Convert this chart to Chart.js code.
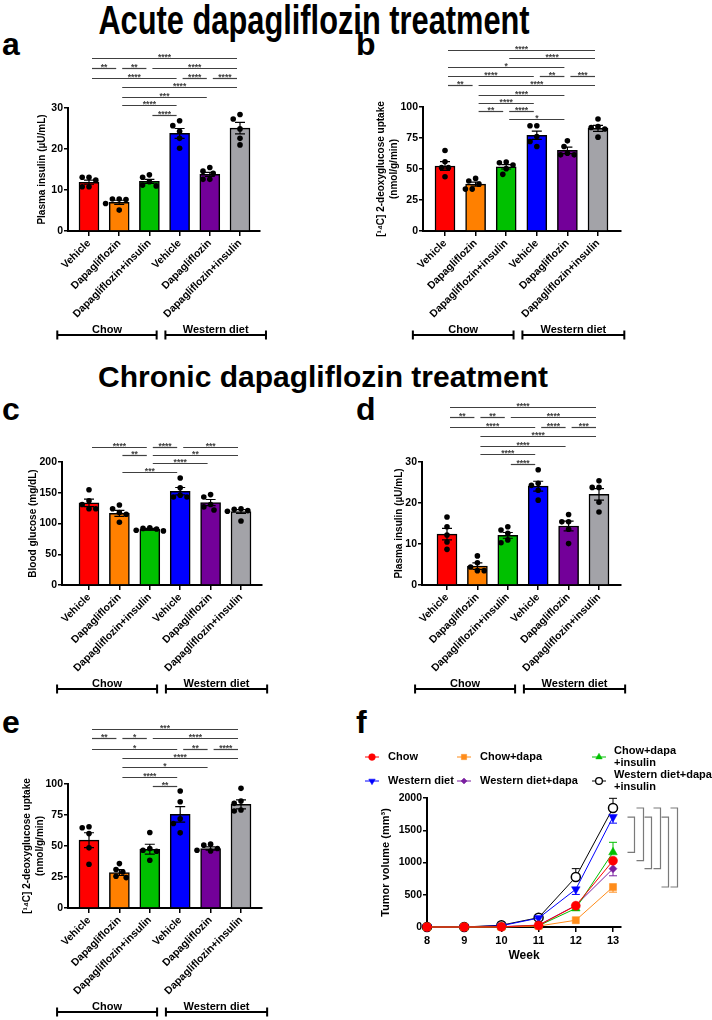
<!DOCTYPE html>
<html>
<head>
<meta charset="utf-8">
<script src="https://cdn.jsdelivr.net/npm/chart.js@4.4.1/dist/chart.umd.min.js"></script>
<style>
  body { margin: 0; background: #fff; }
  #page { position: relative; width: 712px; height: 1020px; overflow: hidden; background: #fff;
          font-family: 'Liberation Sans', Arial, sans-serif; }
  #page canvas { position: absolute; }
  .txt { position: absolute; font-weight: bold; color: #000; white-space: nowrap; line-height: 1; }
</style>
</head>
<body>
<div id="page">
  <div class="txt" style="left:314px; top:0px; font-size:40px; transform: translateX(-50%) scaleX(0.77);">Acute dapagliflozin treatment</div>
  <div class="txt" style="left:323px; top:362px; font-size:30px; transform: translateX(-50%);">Chronic dapagliflozin treatment</div>
  <div class="txt" style="left:2px; top:28px; font-size:32px;">a</div>
  <div class="txt" style="left:356px; top:28px; font-size:32px;">b</div>
  <div class="txt" style="left:2px; top:393px; font-size:32px;">c</div>
  <div class="txt" style="left:356px; top:393px; font-size:32px;">d</div>
  <div class="txt" style="left:2px; top:706px; font-size:32px;">e</div>
  <div class="txt" style="left:356px; top:706px; font-size:32px;">f</div>
</div>
<script>
/* ---- data ---- */
const groups = ['Vehicle', 'Dapagliflozin', 'Dapagliflozin+insulin', 'Vehicle', 'Dapagliflozin', 'Dapagliflozin+insulin'];
const diets = ['Chow', 'Western diet'];

// a: acute, plasma insulin
const aMean = [11.9, 7.0, 12.1, 23.8, 13.8, 25.1];
const aSem = [0.5, 0.5, 0.5, 1.2, 0.5, 1.4];
const aDots = [
    [13.1, 12.4, 13.1, 10.8, 10.8],
    [7.8, 7.8, 7.7, 6.7, 5.1],
    [13.7, 13.1, 12.0, 11.2, 11.0],
    [26.9, 25.7, 24.3, 22.6, 20.2],
    [15.5, 14.6, 14.1, 12.6, 12.6],
    [28.4, 27.3, 24.9, 22.6, 21.0]
];
const aSig = [
    [42.2, 0, 5, '****'],
    [39.8, 0, 1, '**'], [39.8, 1, 2, '**'], [39.8, 2, 5, '****'],
    [37.3, 0, 3, '****'], [37.3, 3, 4, '****'], [37.3, 4, 5, '****'],
    [35.1, 1, 5, '****'],
    [32.7, 1, 4, '***'],
    [30.7, 1, 3, '****'],
    [28.3, 2, 3, '****']
];

// b: acute, 2-deoxyglucose uptake
const bMean = [52.4, 37.8, 51.8, 77.2, 65.0, 82.8];
const bSem = [3.6, 1.6, 1.8, 3.3, 2.6, 2.4];
const bDots = [
    [64.9, 55.9, 51.1, 51.1, 43.8],
    [42.4, 40.3, 37.8, 33.8, 33.8],
    [55.7, 55.1, 53.2, 50.3, 45.7],
    [84.9, 84.9, 76.2, 72.2, 68.1],
    [72.7, 68.1, 62.7, 61.4, 61.4],
    [90.3, 84.3, 83.5, 82.2, 75.7]
];
const bSig = [
    [146, 0, 5, '****'],
    [139.5, 2, 5, '****'],
    [132, 0, 4, '*'],
    [125, 0, 3, '****'], [125, 3, 4, '**'], [125, 4, 5, '***'],
    [117.6, 0, 1, '**'], [117.6, 1, 5, '****'],
    [110, 1, 4, '****'],
    [103, 1, 3, '****'],
    [96.5, 1, 2, '**'], [96.5, 2, 3, '****'],
    [90, 2, 4, '*']
];

// c: chronic, blood glucose
const cMean = [133.5, 116.5, 90.5, 152.5, 134, 119.5];
const cSem = [6, 5, 1.5, 6, 5, 3];
const cDots = [
    [155, 137, 131, 124, 124],
    [130, 124, 118, 115, 102],
    [93, 92, 91, 89, 88],
    [174, 158, 146, 143, 143],
    [147, 143, 131, 127, 122],
    [124, 123, 121, 120, 104]
];
const cSig = [
    [225, 0, 2, '****'], [225, 2, 3, '****'], [225, 3, 5, '***'],
    [212, 1, 2, '**'], [212, 2, 5, '**'],
    [199, 2, 4, '****'],
    [183, 1, 3, '***']
];

// d: chronic, plasma insulin
const dMean = [12.4, 4.6, 12.1, 24.1, 14.4, 22.1];
const dSem = [1.4, 0.8, 0.7, 1.2, 1.2, 1.4];
const dDots = [
    [16.6, 14.2, 12.2, 10.5, 8.7],
    [7.1, 5.4, 4.4, 3.5, 3.5],
    [14.2, 13.4, 12.6, 11.0, 10.3],
    [28.1, 24.8, 24.3, 23.1, 20.7],
    [17.2, 15.4, 15.4, 13.6, 10.1],
    [25.4, 23.8, 23.8, 20.2, 17.8]
];
const dSig = [
    [43.4, 0, 5, '****'],
    [41, 0, 1, '**'], [41, 1, 2, '**'], [41, 2, 5, '****'],
    [38.5, 0, 3, '****'], [38.5, 3, 4, '****'], [38.5, 4, 5, '***'],
    [36.3, 1, 5, '****'],
    [33.9, 1, 4, '****'],
    [32, 1, 3, '****'],
    [29.5, 2, 3, '****']
];

// e: chronic, 2-deoxyglucose uptake
const eMean = [54.7, 28.6, 47.4, 75.5, 48.0, 83.6];
const eSem = [6, 2.4, 4, 6.2, 1.3, 3.6];
const eDots = [
    [65.5, 64.7, 60, 48.5, 35.3],
    [35.8, 31, 29, 25.6, 24.5],
    [60.9, 48, 46.6, 45.8, 38.5],
    [94.3, 85.7, 72, 68.2, 60.6],
    [51.5, 50.7, 48, 46.6, 46],
    [96.5, 86.3, 84.4, 79, 78.2]
];
const eSig = [
    [144.7, 0, 5, '***'],
    [137.4, 0, 1, '**'], [137.4, 1, 2, '*'], [137.4, 2, 5, '****'],
    [128.5, 0, 3, '*'], [128.5, 3, 4, '**'], [128.5, 4, 5, '****'],
    [121.3, 1, 5, '****'],
    [114, 1, 4, '*'],
    [105.9, 1, 3, '****'],
    [98.6, 2, 3, '**']
];

// f: tumor growth
const weeks = [8, 9, 10, 11, 12, 13];
const fLabels = ['Chow', 'Chow+dapa', 'Chow+dapa\n+insulin', 'Western diet', 'Western diet+dapa', 'Western diet+dapa\n+insulin'];
const fChow = [0, 0, 3, 25, 330, 1028];
const fChowSem = [0, 0, 2, 5, 30, 40];
const fChowDapa = [0, 0, 0, 15, 105, 620];
const fChowDapaSem = [0, 0, 0, 3, 15, 80];
const fChowDapaIns = [0, 0, 3, 20, 288, 1158];
const fChowDapaInsSem = [0, 0, 2, 5, 20, 155];
const fWestern = [0, 0, 20, 138, 585, 1705];
const fWesternSem = [0, 0, 5, 15, 80, 95];
const fWesternDapa = [0, 0, 5, 30, 335, 904];
const fWesternDapaSem = [0, 0, 2, 5, 25, 110];
const fWesternDapaIns = [0, 0, 28, 145, 775, 1845];
const fWesternDapaInsSem = [0, 0, 5, 15, 130, 150];
// week-13 comparisons drawn as brackets (series index pairs)
const fPairs = [[3, 2], [5, 0], [3, 4], [5, 4], [3, 1], [5, 1]];

/* ---- drawing ---- */
const FONT = "'Liberation Sans', Arial, sans-serif";
Chart.defaults.font.family = FONT;
Chart.defaults.color = '#000';
Chart.defaults.animation = false;
Chart.defaults.events = [];

const page = document.getElementById('page');
const barColors = ['#ff0000', '#ff8000', '#00c000', '#0000ff', '#730099', '#a3a3a8'];
const DOT_R = 2.8;
const SIG_COLOR = '#404040';
const dietSpans = [[-1.05, 2.24], [2.53, 5.86]];

function addCanvas(r) {
    const cv = document.createElement('canvas');
    cv.width = r.w;
    cv.height = r.h;
    cv.style.left = r.x + 'px';
    cv.style.top = r.y + 'px';
    cv.style.width = r.w + 'px';
    cv.style.height = r.h + 'px';
    page.appendChild(cv);
    return cv;
}

// simple beeswarm: offsets (in category units) so dots don't overlap
function swarm(vals, pxPerUnit, pxPerCat) {
    const minD = 2 * DOT_R + 0.8, step = 2 * DOT_R + 1.2;
    const order = vals.map((v, i) => i).sort((p, q) => vals[q] - vals[p]);
    const cand = [0, -0.5, 0.5, -1, 1, -1.5, 1.5, -2, 2];
    const placed = [];
    const off = vals.map(() => 0);
    order.forEach(i => {
        const py = vals[i] * pxPerUnit;
        for (const c of cand) {
            const px = c * step;
            if (placed.every(pt => Math.hypot(pt[0] - px, pt[1] - py) >= minD)) {
                placed.push([px, py]);
                off[i] = px / pxPerCat;
                break;
            }
        }
    });
    return off;
}

function barExtras(p) {
    return {
        id: 'barExtras',
        afterDatasetDraw(chart, args) {
            if (args.index !== 1) return;
            const {ctx, scales: {x, y}} = chart;
            ctx.save();
            ctx.strokeStyle = '#000';
            ctx.lineWidth = 1.2;
            p.mean.forEach((m, i) => {
                const cx = x.getPixelForValue(i);
                const yHi = y.getPixelForValue(m + p.sem[i]);
                const yLo = y.getPixelForValue(m - p.sem[i]);
                ctx.beginPath();
                ctx.moveTo(cx, yLo); ctx.lineTo(cx, yHi);
                ctx.moveTo(cx - 5, yHi); ctx.lineTo(cx + 5, yHi);
                ctx.moveTo(cx - 5, yLo); ctx.lineTo(cx + 5, yLo);
                ctx.stroke();
            });
            ctx.restore();
        },
        afterDraw(chart) {
            const {ctx, chartArea, scales: {x, y}} = chart;
            ctx.save();
            ctx.font = 'bold 8.5px ' + FONT;
            ctx.textAlign = 'center';
            ctx.textBaseline = 'alphabetic';
            ctx.strokeStyle = SIG_COLOR;
            ctx.fillStyle = SIG_COLOR;
            ctx.lineWidth = 1.2;
            p.sig.forEach(([lv, i, j, s]) => {
                const yy = Math.round(y.getPixelForValue(lv)) + 0.5;
                const x0 = x.getPixelForValue(i) + 3, x1 = x.getPixelForValue(j) - 3;
                ctx.beginPath();
                ctx.moveTo(x0, yy); ctx.lineTo(x1, yy);
                ctx.stroke();
                ctx.fillText(s, (x0 + x1) / 2, yy + 1.5);
            });
            // diet brackets
            const yb = chartArea.bottom + 104;
            ctx.strokeStyle = '#000';
            ctx.fillStyle = '#000';
            ctx.lineWidth = 2;
            ctx.font = 'bold 11px ' + FONT;
            dietSpans.forEach(([s0, s1], k) => {
                const x0 = x.getPixelForValue(s0), x1 = x.getPixelForValue(s1);
                ctx.beginPath();
                ctx.moveTo(x0, yb); ctx.lineTo(x1, yb);
                ctx.moveTo(x0, yb - 4.5); ctx.lineTo(x0, yb + 4.5);
                ctx.moveTo(x1, yb - 4.5); ctx.lineTo(x1, yb + 4.5);
                ctx.stroke();
                ctx.fillText(diets[k], (x0 + x1) / 2, yb - 2.5);
            });
            ctx.restore();
        }
    };
}

function barPanel(p) {
    const {rect, area} = p;
    const cv = addCanvas(rect);
    const u = (p.centers[1] - p.centers[0]) / 5;
    const xMin = -(p.centers[0] - area.L) / u;
    const xMax = 5 + (area.R - p.centers[1]) / u;
    const ppu = (area.B - area.T) / p.yMax;
    const XH = 100;
    const lh = 10 * 1.3;

    const points = [];
    p.dots.forEach((vals, i) => {
        const off = swarm(vals, ppu, u);
        vals.forEach((v, k) => points.push({x: i + off[k], y: v}));
    });

    new Chart(cv, {
        type: 'bar',
        data: {
            datasets: [{
                type: 'scatter',
                data: points,
                order: 0,
                pointRadius: DOT_R,
                pointBackgroundColor: '#000',
                pointBorderWidth: 0,
                clip: false
            }, {
                type: 'bar',
                data: p.mean.map((m, i) => ({x: i, y: m})),
                order: 1,
                backgroundColor: barColors,
                borderColor: '#000',
                borderWidth: 1.5,
                barThickness: 20
            }]
        },
        options: {
            responsive: false,
            layout: {
                padding: {
                    left: 0,
                    top: area.T - rect.y,
                    right: rect.x + rect.w - area.R,
                    bottom: rect.y + rect.h - area.B - XH
                }
            },
            scales: {
                x: {
                    type: 'linear',
                    min: xMin,
                    max: xMax,
                    offset: false,
                    afterFit: s => { s.height = XH; },
                    grid: {drawOnChartArea: false, offset: false, color: '#000', lineWidth: 1.5, tickLength: 5},
                    border: {color: '#000', width: 2},
                    ticks: {
                        stepSize: 1, includeBounds: false, autoSkip: false,
                        minRotation: 45, maxRotation: 45, padding: 1,
                        color: '#000', font: {size: 10.5, weight: 'bold'},
                        callback: v => groups[v]
                    }
                },
                y: {
                    min: 0,
                    max: p.yMax,
                    afterFit: s => { s.width = area.L - rect.x; },
                    grid: {drawOnChartArea: false, color: '#000', lineWidth: 1.5, tickLength: 4},
                    border: {color: '#000', width: 2},
                    ticks: {stepSize: p.yStep, color: '#000', padding: 1, font: {size: 10.5, weight: 'bold'}},
                    title: {
                        display: true,
                        text: p.yTitle,
                        color: '#000',
                        font: {size: 10, weight: 'bold', lineHeight: 1.3},
                        padding: {top: p.titleX - rect.x - lh / 2, bottom: 0}
                    }
                }
            },
            plugins: {legend: {display: false}, tooltip: {enabled: false}}
        },
        plugins: [barExtras(p)]
    });
}

const uptakeTitle = ['[\u00b9\u2074C] 2-deoxyglucose uptake', '(nmol/g/min)'];

barPanel({rect: {x: 0, y: 38, w: 350, h: 312}, area: {L: 68, R: 260, T: 108, B: 231}, centers: [89, 240],
    yMax: 30, yStep: 10, yTitle: 'Plasma insulin (\u00b5U/mL)', titleX: 42,
    mean: aMean, sem: aSem, dots: aDots, sig: aSig});
barPanel({rect: {x: 356, y: 38, w: 356, h: 312}, area: {L: 423, R: 621, T: 107, B: 231}, centers: [445, 598],
    yMax: 100, yStep: 25, yTitle: uptakeTitle, titleX: 381,
    mean: bMean, sem: bSem, dots: bDots, sig: bSig});
barPanel({rect: {x: 0, y: 400, w: 350, h: 300}, area: {L: 62, R: 262, T: 462, B: 585}, centers: [89, 241],
    yMax: 200, yStep: 50, yTitle: 'Blood glucose (mg/dL)', titleX: 33,
    mean: cMean, sem: cSem, dots: cDots, sig: cSig});
barPanel({rect: {x: 356, y: 400, w: 356, h: 300}, area: {L: 422, R: 621, T: 462, B: 585}, centers: [447, 599],
    yMax: 30, yStep: 10, yTitle: 'Plasma insulin (\u00b5U/mL)', titleX: 399,
    mean: dMean, sem: dSem, dots: dDots, sig: dSig});
barPanel({rect: {x: 0, y: 700, w: 350, h: 320}, area: {L: 68, R: 262, T: 784, B: 908}, centers: [89, 241],
    yMax: 100, yStep: 25, yTitle: uptakeTitle, titleX: 27,
    mean: eMean, sem: eSem, dots: eDots, sig: eSig});

/* ---- panel f ---- */
const fRect = {x: 356, y: 740, w: 356, h: 240};
const fArea = {L: 427, R: 621, T: 798, B: 927};
const fSeries = [
    {vals: fChow, sem: fChowSem, dir: 1, color: '#ff0000', fill: '#ff0000', style: 'circle', r: 4.5},
    {vals: fChowDapa, sem: fChowDapaSem, dir: -1, color: '#ff8c1a', fill: '#ff8c1a', style: 'rect', r: 5},
    {vals: fChowDapaIns, sem: fChowDapaInsSem, dir: 1, color: '#00c000', fill: '#00c000', style: 'triangle', r: 5},
    {vals: fWestern, sem: fWesternSem, dir: -1, color: '#0000ff', fill: '#0000ff', style: 'triangle', r: 5, rot: 180},
    {vals: fWesternDapa, sem: fWesternDapaSem, dir: -1, color: '#7a1fa0', fill: '#7a1fa0', style: 'rectRot', r: 4},
    {vals: fWesternDapaIns, sem: fWesternDapaInsSem, dir: 1, color: '#000', fill: '#fff', style: 'circle', r: 4.5}
];

const fExtras = {
    id: 'fExtras',
    beforeDatasetsDraw(chart) {
        const {ctx, scales: {x, y}} = chart;
        ctx.save();
        ctx.lineWidth = 1;
        fSeries.forEach(s => {
            ctx.strokeStyle = s.color;
            s.vals.forEach((v, i) => {
                if (!s.sem[i]) return;
                const cx = x.getPixelForValue(weeks[i]);
                const y0 = y.getPixelForValue(v), y1 = y.getPixelForValue(v + s.dir * s.sem[i]);
                if (Math.abs(y1 - y0) < 3) return;
                ctx.beginPath();
                ctx.moveTo(cx, y0); ctx.lineTo(cx, y1);
                ctx.moveTo(cx - 4, y1); ctx.lineTo(cx + 4, y1);
                ctx.stroke();
            });
        });
        ctx.restore();
    },
    afterDraw(chart) {
        const {ctx, scales: {x, y}} = chart;
        ctx.save();
        // brackets at week 13
        const last = weeks.length - 1;
        const x13 = x.getPixelForValue(weeks[last]);
        ctx.strokeStyle = '#7a7a7a';
        ctx.lineWidth = 1.2;
        fPairs.forEach(([a, b], k) => {
            const xv = Math.round(x13 + 21 + k * 8.6) + 0.5;
            const ya = y.getPixelForValue(fSeries[a].vals[last]);
            const yb = y.getPixelForValue(fSeries[b].vals[last]);
            ctx.beginPath();
            ctx.moveTo(xv - 7, ya); ctx.lineTo(xv, ya);
            ctx.lineTo(xv, yb); ctx.lineTo(xv - 7, yb);
            ctx.stroke();
        });
        // legend
        const colX = [372, 464, 599], textX = [388, 480, 614], rowY = [757, 781];
        ctx.font = 'bold 11px ' + FONT;
        ctx.textAlign = 'left';
        ctx.textBaseline = 'middle';
        chart.data.datasets.forEach((ds, i) => {
            const s = fSeries[i];
            const mx = colX[i % 3] - fRect.x, my = rowY[Math.floor(i / 3)] - fRect.y;
            ctx.strokeStyle = s.color;
            ctx.lineWidth = 1;
            ctx.beginPath();
            ctx.moveTo(mx - 7, my); ctx.lineTo(mx + 7, my);
            ctx.stroke();
            ctx.fillStyle = s.fill;
            ctx.lineWidth = s.fill === '#fff' ? 1.3 : 0.5;
            Chart.helpers.drawPoint(ctx, {pointStyle: s.style, radius: s.r * 0.75, rotation: s.rot || 0, borderWidth: ctx.lineWidth}, mx, my);
            ctx.fillStyle = '#000';
            const parts = ds.label.split('\n');
            const tx = textX[i % 3] - fRect.x;
            if (parts.length === 1) {
                ctx.fillText(parts[0], tx, my);
            } else {
                ctx.fillText(parts[0], tx, my - 6.5);
                ctx.fillText(parts[1], tx, my + 6);
            }
        });
        ctx.restore();
    }
};

const fXH = 36;
new Chart(addCanvas(fRect), {
    type: 'line',
    data: {
        datasets: fSeries.map((s, i) => ({
            label: fLabels[i],
            data: weeks.map((w, k) => ({x: w, y: s.vals[k]})),
            borderColor: s.color,
            backgroundColor: s.fill,
            borderWidth: 1,
            pointStyle: s.style,
            pointRadius: s.r,
            pointRotation: s.rot || 0,
            pointBorderWidth: s.fill === '#fff' ? 1.5 : 0.5,
            pointBorderColor: s.color,
            pointBackgroundColor: s.fill,
            tension: 0,
            clip: false
        }))
    },
    options: {
        responsive: false,
        layout: {
            padding: {
                left: 0,
                top: fArea.T - fRect.y,
                right: fRect.x + fRect.w - fArea.R,
                bottom: fRect.y + fRect.h - fArea.B - fXH
            }
        },
        scales: {
            x: {
                type: 'linear',
                min: 8,
                max: 13 + (fArea.R - 613) / ((613 - fArea.L) / 5),
                afterFit: s => { s.height = fXH; },
                grid: {drawOnChartArea: false, color: '#000', lineWidth: 1.5, tickLength: 5},
                border: {color: '#000', width: 2},
                ticks: {stepSize: 1, includeBounds: false, color: '#000', padding: 2, font: {size: 11, weight: 'bold'}},
                title: {display: true, text: 'Week', color: '#000', font: {size: 12, weight: 'bold'}, padding: {top: 0, bottom: 0}}
            },
            y: {
                min: 0,
                max: 2000,
                afterFit: s => { s.width = fArea.L - fRect.x; },
                grid: {drawOnChartArea: false, color: '#000', lineWidth: 1.5, tickLength: 4},
                border: {color: '#000', width: 2},
                ticks: {stepSize: 500, color: '#000', padding: 1, font: {size: 10.5, weight: 'bold'}, callback: v => String(v)},
                title: {
                    display: true,
                    text: 'Tumor volume (mm\u00b3)',
                    color: '#000',
                    font: {size: 11, weight: 'bold'},
                    padding: {top: 30 - 6.6, bottom: 0}
                }
            }
        },
        plugins: {legend: {display: false}, tooltip: {enabled: false}}
    },
    plugins: [fExtras]
});
</script>
</body>
</html>
